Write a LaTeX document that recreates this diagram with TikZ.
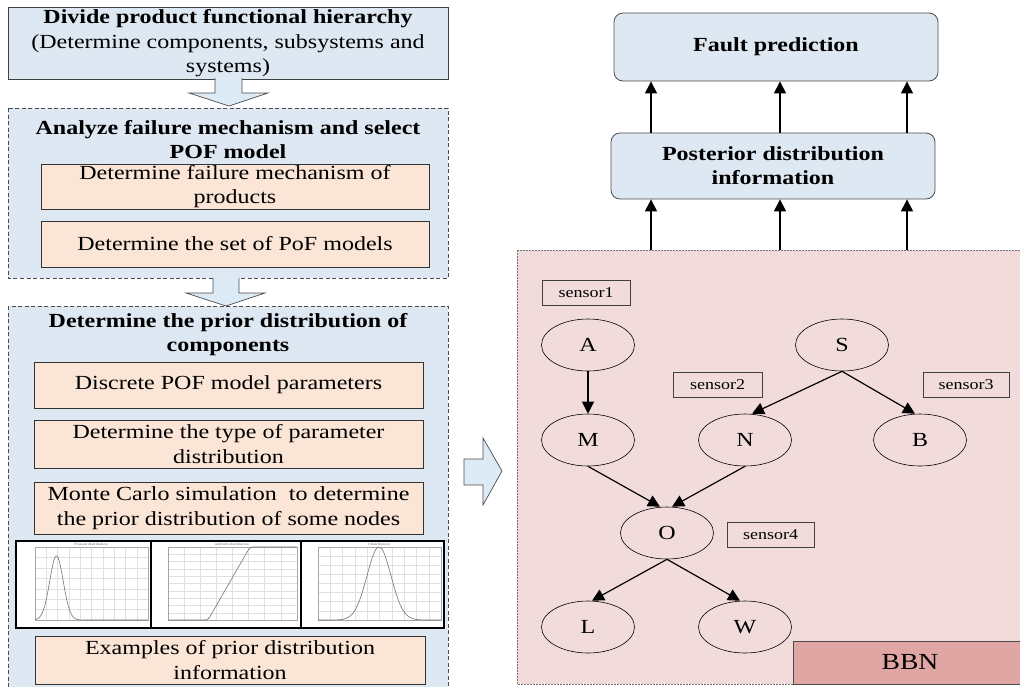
\documentclass[tikz,border=0pt]{standalone}
\usepackage{fontspec}
\setmainfont[FakeStretch=1.2]{Liberation Serif}
\usetikzlibrary{arrows.meta,shapes.geometric,calc}
\definecolor{lblue}{HTML}{DEE8F2}
\definecolor{peach}{HTML}{FBE5D6}
\definecolor{bbnbg}{HTML}{F2DCDB}
\definecolor{bbnbox}{HTML}{E0A6A4}
\definecolor{arrfill}{HTML}{DDEBF7}
\tikzset{
  mainfont/.style={font=\fontsize{20}{24.5}\selectfont},
  bluebox/.style={draw=black!75, fill=lblue, line width=0.8pt, inner sep=0pt, align=center, mainfont},
  dashbox/.style={draw=black!70, dash pattern=on 4pt off 2.5pt, fill=lblue, line width=0.7pt},
  titletext/.style={align=center, font=\bfseries\fontsize{20}{24}\selectfont, inner sep=0pt},
  peachbox/.style={draw=black!80, fill=peach, line width=0.8pt, inner sep=0pt, align=center, mainfont},
  rbox/.style={draw=black!70, fill=lblue, rounded corners=9pt, line width=0.8pt, inner sep=0pt, align=center, font=\bfseries\fontsize{20}{24}\selectfont},
  bn/.style={ellipse, draw, line width=0.6pt, minimum width=93pt, minimum height=52pt, inner sep=0pt, font=\fontsize{20}{24}\selectfont},
  sensorbox/.style={draw=black!75, line width=0.7pt, minimum height=25pt, inner sep=0pt, font=\fontsize{15}{18}\selectfont},
  edge/.style={-{Triangle[length=12pt,width=12pt]}, line width=1.2pt},
  blockarrow/.style={draw=black!70, fill=arrfill, line width=0.7pt},
  plotframe/.style={draw=black, line width=1.2pt, fill=white},
  gridline/.style={draw=black!12, line width=0.3pt},
  curve/.style={draw=black!55, line width=0.6pt},
  plottitle/.style={font=\fontsize{3.5}{4}\selectfont, text=black!60, inner sep=0pt}
}
\begin{document}
\begin{tikzpicture}[x=1pt,y=-1pt]
\useasboundingbox (0,0) rectangle (1020,686);

% ---------------- left column ----------------
\node[bluebox, minimum width=440pt, minimum height=72pt] (b1) at (228,43.5)
  {\textbf{Divide product functional hierarchy}\\(Determine components, subsystems and\\systems)};

\draw[dashbox] (8,108) rectangle (448,278);
\node[titletext] (t2) at (228,140) {Analyze failure mechanism and select\\POF model};
\node[peachbox, minimum width=388pt, minimum height=45pt] (p1) at (235,186.5)
  {Determine failure mechanism of\\products};
\node[peachbox, minimum width=388pt, minimum height=46pt] (p2) at (235,244)
  {Determine the set of PoF models};

% arrow 1
\draw[blockarrow] (215,78) -- (215,93) -- (189,93) -- (229,106) -- (268,93) -- (242,93) -- (242,78);

% arrow 2
\draw[blockarrow] (213,278) -- (213,293) -- (186,293) -- (226,306) -- (265,293) -- (239,293) -- (239,278);

\draw[dashbox] (8,306) rectangle (448,692);
\node[titletext] (t3) at (228,335) {Determine the prior distribution of\\components};
\node[peachbox, minimum width=389pt, minimum height=46pt] (p3) at (228.5,385)
  {Discrete POF model parameters};
\node[peachbox, minimum width=389pt, minimum height=48pt] (p4) at (228.5,444)
  {Determine the type of parameter\\distribution};
\node[peachbox, minimum width=389pt, minimum height=52pt] (p5) at (228.5,508)
  {Monte Carlo simulation\ \ to determine\\the prior distribution of some nodes};

% plots
\draw[plotframe] (16,541) rectangle (151,628);
\draw[plotframe] (151,541) rectangle (301,628);
\draw[plotframe] (301,541) rectangle (444,628);
% plot 1
\foreach \i in {0,...,10} {\draw[gridline] ({35+\i*11.3},547) -- ({35+\i*11.3},620);}
\foreach \j in {0,...,7} {\draw[gridline] (35,{547+\j*10.43}) -- (148,{547+\j*10.43});}
\draw[draw=black!35, line width=0.4pt] (35,547) rectangle (148,620);
\draw[curve] plot[domain=0:21.5, samples=60] ({35+\x*2.26},{620-64*exp(-((\x-9.5)^2)/18)}) -- (148,620);
\node[plottitle] (pt1) at (91,544.5) {Poisson distribution};
% plot 2
\foreach \i in {0,...,8} {\draw[gridline] ({168+\i*16.1},547) -- ({168+\i*16.1},620);}
\foreach \j in {0,...,10} {\draw[gridline] (168,{547+\j*7.3}) -- (297,{547+\j*7.3});}
\draw[draw=black!35, line width=0.4pt] (168,547) rectangle (297,620);
\draw[curve, rounded corners=3pt] (168,620) -- (208,620) -- (250,547) -- (297,547);
\node[plottitle] (pt2) at (232,544.5) {uniform distribution};
% plot 3
\foreach \i in {0,...,10} {\draw[gridline] ({318+\i*12.3},547) -- ({318+\i*12.3},620);}
\foreach \j in {0,...,8} {\draw[gridline] (318,{547+\j*9.1}) -- (441,{547+\j*9.1});}
\draw[draw=black!35, line width=0.4pt] (318,547) rectangle (441,620);
\draw[curve] (318,620) -- (331,620) -- plot[domain=-48:48, samples=80] ({379+\x},{620-73*exp(-(\x*\x)/288)}) -- (441,620);
\node[plottitle] (pt3) at (379,544.5) {t distribution};

\node[peachbox, minimum width=390pt, minimum height=48pt] (p6) at (230,660)
  {Examples of prior distribution\\information};

% big right arrow
\draw[blockarrow] (464,459) -- (483,459) -- (483,438) -- (502,471) -- (483,505) -- (483,485) -- (464,485) -- cycle;

% ---------------- right column ----------------
\node[rbox, minimum width=324pt, minimum height=68pt] (fault) at (776,47) {Fault prediction};
\node[rbox, minimum width=324pt, minimum height=66pt] (post) at (773,166)
  {Posterior distribution\\information};

\draw[draw=black!55, fill=bbnbg, dash pattern=on 2pt off 1pt, line width=0.8pt] (517,250) rectangle (1026,684);

\coordinate (u1) at (651,250);
\coordinate (u2) at (780,250);
\coordinate (u3) at (907,250);
\draw[edge] (u1) -- (u1 |- post.south);
\draw[edge] (u2) -- (u2 |- post.south);
\draw[edge] (u3) -- (u3 |- post.south);
\draw[edge] (u1 |- post.north) -- (u1 |- fault.south);
\draw[edge] (u2 |- post.north) -- (u2 |- fault.south);
\draw[edge] (u3 |- post.north) -- (u3 |- fault.south);

\node[sensorbox, minimum width=88pt] (s1) at (586,292.5) {sensor1};
\node[sensorbox, minimum width=89pt] (s2) at (717.5,384.5) {sensor2};
\node[sensorbox, minimum width=86pt] (s3) at (966,384.5) {sensor3};
\node[sensorbox, minimum width=87pt] (s4) at (770.5,534.5) {sensor4};

\node[bn] (A) at (588,345) {A};
\node[bn] (S) at (842,345) {S};
\node[bn] (M) at (588,440) {M};
\node[bn] (N) at (745,440) {N};
\node[bn] (B) at (920,440) {B};
\node[bn] (O) at (667,533) {O};
\node[bn] (L) at (588,627) {L};
\node[bn] (W) at (745,627) {W};

\draw[edge] (A.south) -- (M.north);
\draw[edge] (S.south) -- ($(N.north)+(7,0)$);
\draw[edge] (S.south) -- ($(B.north)+(-5,0)$);
\draw[edge] (M.south) -- ($(O.north)+(-7,0)$);
\draw[edge] (N.south) -- ($(O.north)+(5,0)$);
\draw[edge] (O.south) -- ($(L.north)+(4,0)$);
\draw[edge] (O.south) -- ($(W.north)+(-5,0)$);

\node[draw=black!70, fill=bbnbox, line width=0.8pt, minimum width=233pt, minimum height=43pt, anchor=north west, inner sep=0pt] (bbn) at (793,641) {};
\node[font=\fontsize{23}{26}\selectfont, inner sep=0pt] (bbnt) at (910,662) {BBN};
\end{tikzpicture}
\end{document}
